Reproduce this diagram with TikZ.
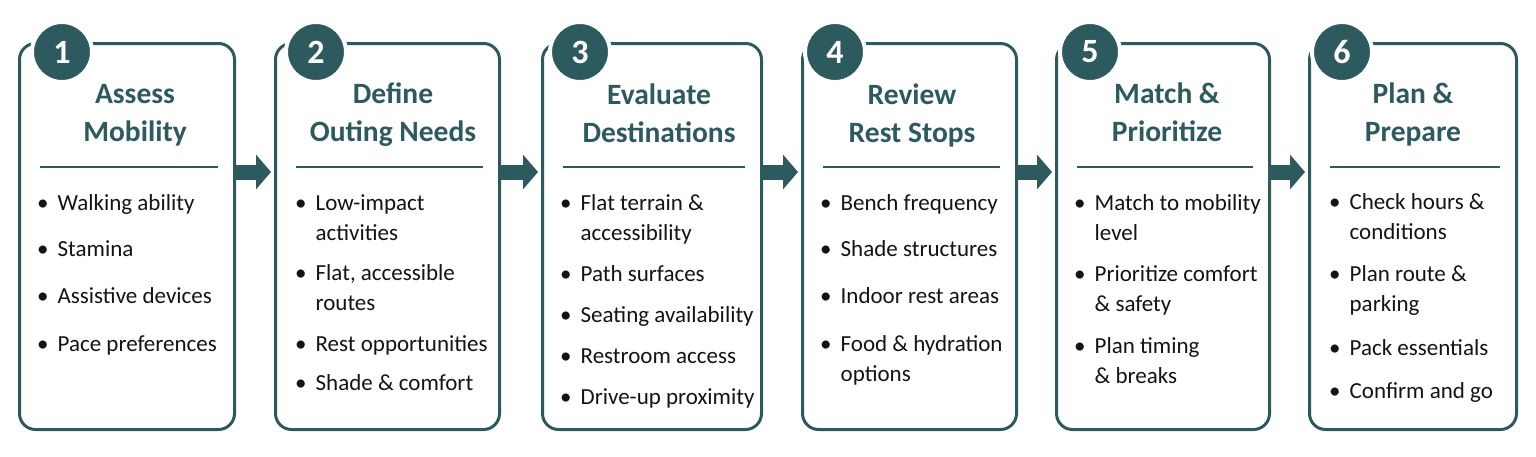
\documentclass[tikz,border=0pt]{standalone}
\usepackage{fontspec}
\setmainfont{Carlito}
\usetikzlibrary{arrows.meta,calc}
\definecolor{tl}{HTML}{2D5A5E}
\definecolor{ink}{HTML}{141414}
\newcommand\bl[1]{\begin{tabular}[t]{@{}l@{\hspace{9pt}}l@{}}\textbullet&#1\end{tabular}}
\tikzset{
 card/.style={draw=tl, line width=3pt, rounded corners=16pt, fill=white, anchor=north west, inner sep=0, minimum height=386pt},
 badge/.style={circle, fill=tl, draw=white, line width=4pt, minimum size=60pt, inner sep=0, text=white, font=\fontsize{34}{34}\selectfont\bfseries},
 ttl/.style={text=tl, font=\fontsize{29.5}{38}\selectfont\bfseries, align=center, anchor=base, inner sep=0},
 rule/.style={draw=tl, line width=2.5pt},
 itm/.style={text=ink, font=\fontsize{23}{30}\selectfont, anchor=base west, inner sep=0},
 flow/.style={draw=tl, line width=15pt, -{Triangle[length=15pt,width=34pt]}},
}
\begin{document}
\begin{tikzpicture}[x=1pt,y=-1pt]
\useasboundingbox (0,0) rectangle (1536,456);
% cards
\node[card, minimum width=215pt] (b1) at (18,42) {};
\node[card, minimum width=224pt] (b2) at (274,42) {};
\node[card, minimum width=219pt] (b3) at (541,42) {};
\node[card, minimum width=214pt] (b4) at (801,42) {};
\node[card, minimum width=213pt] (b5) at (1055,42) {};
\node[card, minimum width=207pt] (b6) at (1308,42) {};
% rules
\foreach \b in {b1,b2,b3,b4,b5,b6}{
  \draw[rule] ($(\b.north west)+(22,125)$) -- ($(\b.north east)+(-18,125)$);
}
% badges
\node[badge] (n1) at ($(b1.north west)+(44,10)$) {1};
\node[badge] (n2) at ($(b2.north west)+(42,10)$) {2};
\node[badge] (n3) at ($(b3.north west)+(39,10)$) {3};
\node[badge] (n4) at ($(b4.north west)+(34,10)$) {4};
\node[badge] (n5) at ($(b5.north west)+(35,10)$) {5};
\node[badge] (n6) at ($(b6.north west)+(34,10)$) {6};
% arrows
\draw[flow] (b1.east |- 0,172) -- ($(b2.west |- 0,172)+(-3,0)$);
\draw[flow] (b2.east |- 0,172) -- ($(b3.west |- 0,172)+(-3,0)$);
\draw[flow] (b3.east |- 0,172) -- ($(b4.west |- 0,172)+(-3,0)$);
\draw[flow] (b4.east |- 0,172) -- ($(b5.west |- 0,172)+(-3,0)$);
\draw[flow] (b5.east |- 0,172) -- ($(b6.west |- 0,172)+(-3,0)$);
% titles
\node[ttl] (t1) at (135,141) {Assess\\Mobility};
\node[ttl] (t2) at (393,141) {Define\\Outing Needs};
\node[ttl] (t3) at (659,142) {Evaluate\\Destinations};
\node[ttl] (t4) at (912,142) {Review\\Rest Stops};
\node[ttl] (t5) at (1167,141) {Match \&\\Prioritize};
\node[ttl] (t6) at (1413,141) {Plan \&\\Prepare};
% items box 1
\node[itm] (i11) at (37,210) {\bl{Walking ability}};
\node[itm] (i12) at (37,256) {\bl{Stamina}};
\node[itm] (i13) at (37,303) {\bl{Assistive devices}};
\node[itm] (i14) at (37,351) {\bl{Pace preferences}};
% box 2
\node[itm] (i21) at (295,210) {\bl{Low-impact\\&activities}};
\node[itm] (i22) at (295,280) {\bl{Flat, accessible\\&routes}};
\node[itm] (i23) at (295,351) {\bl{Rest opportunities}};
\node[itm] (i24) at (295,390) {\bl{Shade \& comfort}};
% box 3
\node[itm] (i31) at (560,210) {\bl{Flat terrain \&\\&accessibility}};
\node[itm] (i32) at (560,281) {\bl{Path surfaces}};
\node[itm] (i33) at (560,322) {\bl{Seating availability}};
\node[itm] (i34) at (560,363) {\bl{Restroom access}};
\node[itm] (i35) at (560,404) {\bl{Drive-up proximity}};
% box 4
\node[itm] (i41) at (820,210) {\bl{Bench frequency}};
\node[itm] (i42) at (820,256) {\bl{Shade structures}};
\node[itm] (i43) at (820,303) {\bl{Indoor rest areas}};
\node[itm] (i44) at (820,351) {\bl{Food \& hydration\\&options}};
% box 5
\node[itm] (i51) at (1074,210) {\bl{Match to mobility\\&level}};
\node[itm] (i52) at (1074,281) {\bl{Prioritize comfort\\&\& safety}};
\node[itm] (i53) at (1074,353) {\bl{Plan timing\\&\& breaks}};
% box 6
\node[itm] (i61) at (1329,209) {\bl{Check hours \&\\&conditions}};
\node[itm] (i62) at (1329,281) {\bl{Plan route \&\\&parking}};
\node[itm] (i63) at (1329,355) {\bl{Pack essentials}};
\node[itm] (i64) at (1329,398) {\bl{Confirm and go}};
\end{tikzpicture}
\end{document}
